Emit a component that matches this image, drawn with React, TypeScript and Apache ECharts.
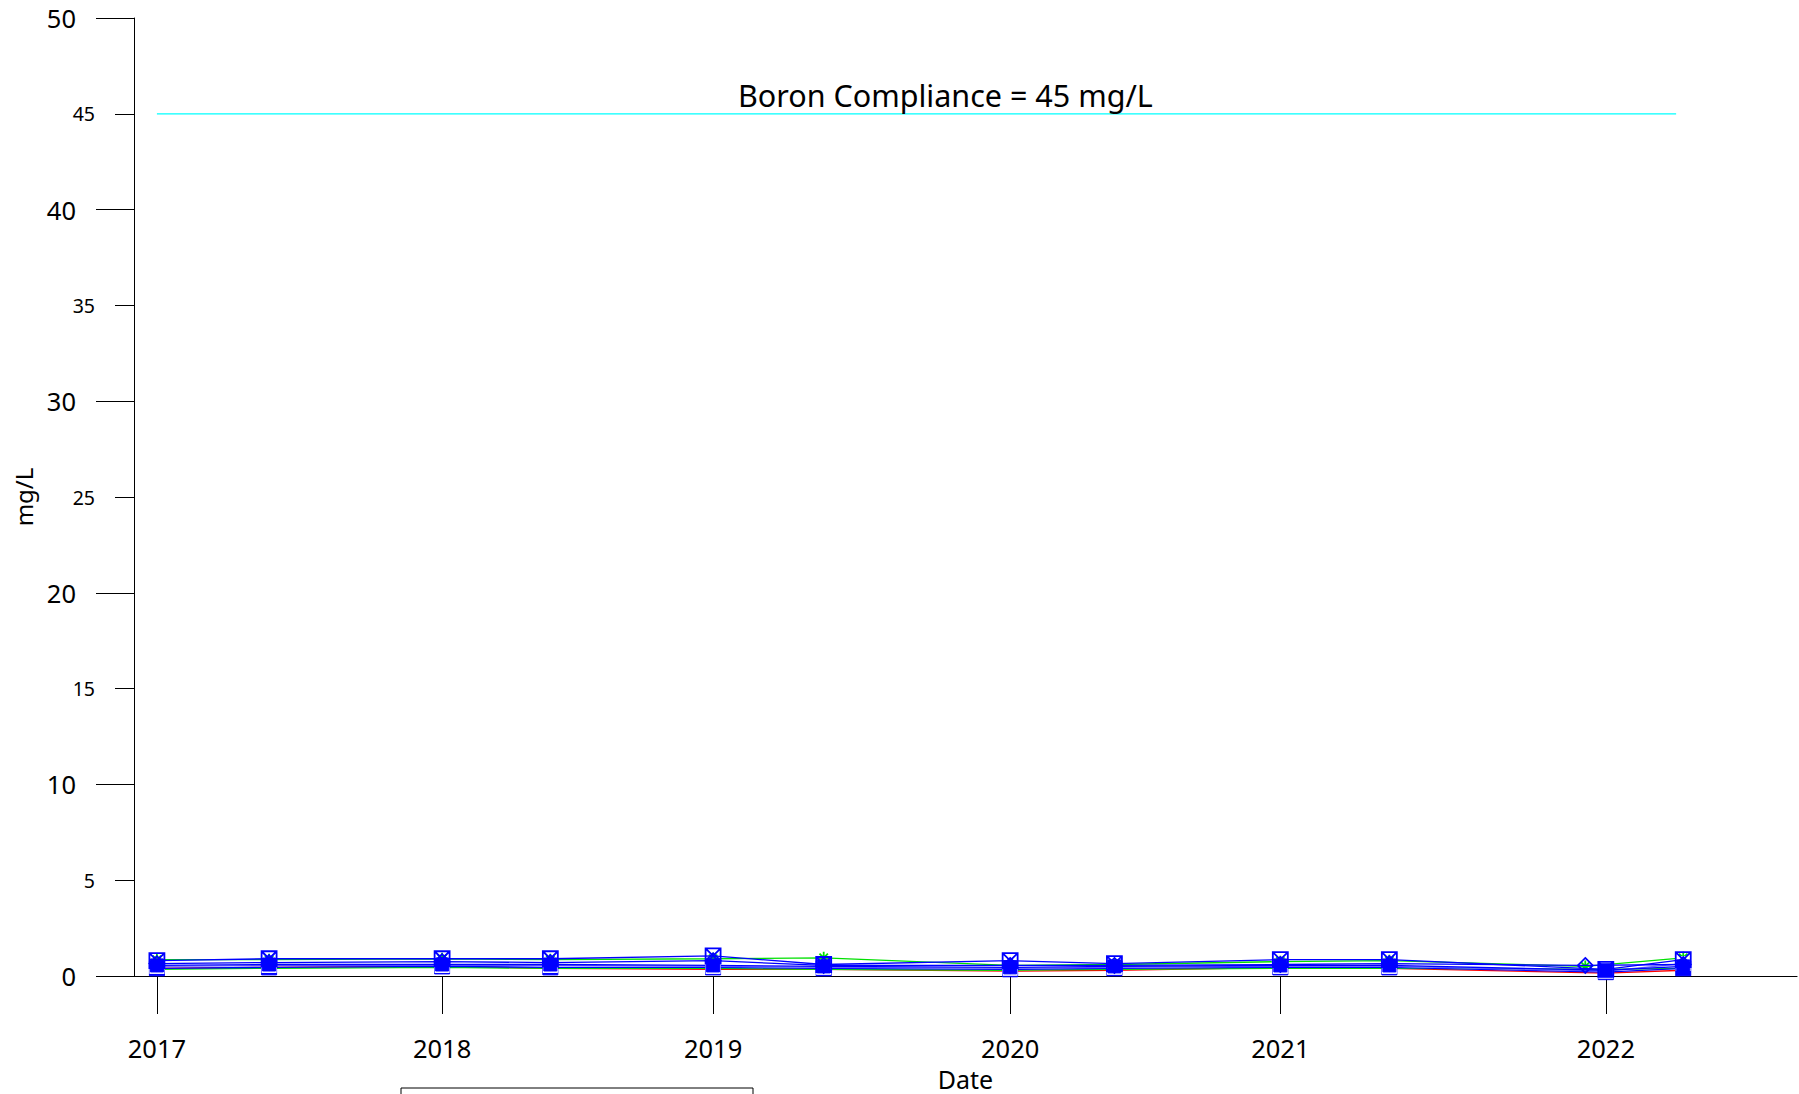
import React, { useEffect, useRef } from 'react';
import * as echarts from 'echarts';

// Sample dates (semi-annual monitoring)
const DATES = [
  '2017-03-15', '2017-08-04', '2018-03-11', '2018-07-26', '2019-02-17', '2019-07-07',
  '2020-02-28', '2020-07-09', '2021-02-04', '2021-06-22', '2022-02-25', '2022-03-23', '2022-06-29',
];
const TICK_DATES = ['2017-03-15', '2018-03-11', '2019-02-17', '2020-02-28', '2021-02-04', '2022-03-23'];
const X_MIN = '2017-02-14';
const X_MAX = '2022-11-20';

const Y_MAJOR_TICKS = [0, 10, 20, 30, 40, 50];
const Y_MINOR_TICKS = [5, 15, 25, 35, 45];

const LIMIT_VALUE = 45;
const LIMIT_LABEL = 'Boron Compliance = 45 mg/L';
const LIMIT_START = '2017-03-15';
const LIMIT_END = '2022-06-20';

// Boron concentrations (mg/L) per well
const W1 = [0.80, 0.90, 0.90, 0.90, 1.05, 0.60, 0.80, 0.65, 0.85, 0.85, null, 0.35, 0.85];
const W2 = [0.85, 0.85, 0.90, 0.85, 0.90, 0.95, 0.55, 0.60, 0.75, 0.80, 0.50, null, 0.95];
const W3 = [0.65, 0.70, 0.75, 0.70, 0.80, 0.55, 0.55, 0.55, 0.60, 0.65, 0.55, null, 0.60];
const W4 = [0.55, 0.60, 0.60, 0.60, 0.55, 0.50, 0.45, 0.50, 0.55, 0.55, null, 0.30, 0.50];
const W5 = [0.50, 0.55, 0.55, 0.55, 0.50, 0.45, 0.40, 0.45, 0.50, 0.50, null, 0.25, 0.65];
const W6 = [0.40, 0.45, 0.50, 0.45, 0.45, 0.40, 0.35, 0.40, 0.45, 0.45, null, 0.20, 0.40];
const W7 = [0.40, 0.45, 0.50, 0.40, 0.35, 0.35, 0.25, 0.30, 0.45, 0.40, null, 0.15, 0.30];
const W8 = [0.35, 0.40, 0.45, 0.40, 0.40, 0.35, 0.30, 0.35, 0.40, 0.40, null, 0.35, 0.40];

const ts = (d: string) => {
  const [y, m, dd] = d.split('-').map(Number);
  return Date.UTC(y, m - 1, dd);
};

const FONT = '"Noto Sans", "Open Sans", sans-serif';
const BLUE = '#0000ff';
const GREEN = '#00e000';
const RED = '#ff0000';
const LIGHTBLUE = '#6a6aff';

const XBOX = 'path://M0 0H10V10H0Z M0 0L10 10 M10 0L0 10';
const STAR = 'path://M5 0V10 M0 5H10 M1.5 1.5L8.5 8.5 M8.5 1.5L1.5 8.5';

function mk(name: string, vals: (number | null)[], color: string, symbol: string, size: number, filled: boolean, z: number) {
  return {
    name,
    type: 'line',
    z,
    data: DATES.map((d, i) => [ts(d), vals[i]]),
    connectNulls: true,
    symbol,
    symbolSize: size,
    showSymbol: true,
    color,
    lineStyle: { color, width: 1.3 },
    itemStyle: filled
      ? { color, borderColor: color, borderWidth: 1 }
      : { color: 'rgba(0,0,0,0)', borderColor: color, borderWidth: 1.8 },
    emphasis: { disabled: true },
  };
}

export default function App() {
  const ref = useRef<HTMLDivElement>(null);
  useEffect(() => {
    document.body.style.margin = '0';
    const chart = echarts.init(ref.current!, null, { renderer: 'svg' });
    const option: any = {
      animation: false,
      backgroundColor: '#ffffff',
      title: {
        text: LIMIT_LABEL,
        left: 733,
        top: 74,
        textStyle: { fontFamily: FONT, fontSize: 30.5, fontWeight: 'normal', color: '#000' },
      },
      grid: { left: 134, right: 2, top: 18, bottom: 118, containLabel: false, outerBoundsMode: 'none' },
      xAxis: {
        type: 'value',
        min: ts(X_MIN),
        max: ts(X_MAX),
        name: 'Date',
        nameLocation: 'middle',
        nameGap: 90,
        nameTextStyle: { fontFamily: FONT, fontSize: 25, color: '#000' },
        axisLine: { show: true, lineStyle: { color: '#000', width: 1.2 } },
        axisTick: { show: true, length: 38, customValues: TICK_DATES.map(ts), lineStyle: { color: '#000', width: 1 } },
        axisLabel: {
          customValues: TICK_DATES.map(ts),
          formatter: (v: number) => String(new Date(v).getUTCFullYear()),
          fontFamily: FONT,
          fontSize: 25.5,
          color: '#000',
          margin: 59,
        },
        splitLine: { show: false },
      },
      yAxis: [
        {
          type: 'value',
          position: 'left',
          min: 0,
          max: 50,
          interval: 10,
          name: 'mg/L',
          nameLocation: 'middle',
          nameGap: 98,
          nameTextStyle: { fontFamily: FONT, fontSize: 24, color: '#000' },
          axisLine: { show: true, lineStyle: { color: '#000', width: 1 } },
          axisTick: { show: true, length: 38, lineStyle: { color: '#000', width: 1 } },
          axisLabel: {
            customValues: Y_MAJOR_TICKS,
            fontFamily: FONT,
            fontSize: 25.5,
            color: '#000',
            margin: 58,
          },
          splitLine: { show: false },
        },
        {
          type: 'value',
          position: 'left',
          offset: 0,
          min: 0,
          max: 50,
          interval: 5,
          axisLine: { show: false },
          axisTick: { show: true, length: 19, customValues: Y_MINOR_TICKS, lineStyle: { color: '#000', width: 1 } },
          axisLabel: {
            customValues: Y_MINOR_TICKS,
            fontFamily: FONT,
            fontSize: 19.5,
            color: '#000',
            margin: 39,
          },
          splitLine: { show: false },
        },
      ],
      series: [
        {
          name: 'limit',
          type: 'line',
          data: [[ts(LIMIT_START), LIMIT_VALUE], [ts(LIMIT_END), LIMIT_VALUE]],
          symbol: 'none',
          lineStyle: { color: '#00ffff', width: 1.2 },
          emphasis: { disabled: true },
          z: 1,
        },
        mk('W7', W7, RED, 'circle', 5, true, 2),
        mk('W8', W8, GREEN, 'triangle', 8, true, 2),
        mk('W2', W2, GREEN, STAR, 12, false, 3),
        mk('W6', W6, BLUE, 'rect', 15, true, 4),
        mk('W5', W5, LIGHTBLUE, 'emptyRect', 15, false, 4),
        mk('W4', W4, BLUE, 'rect', 13, true, 4),
        mk('W3', W3, BLUE, 'diamond', 15, false, 5),
        mk('W1', W1, BLUE, XBOX, 15, false, 6),
      ],
      graphic: [
        {
          type: 'rect',
          shape: { x: 401, y: 1088, width: 352, height: 40 },
          style: { fill: 'none', stroke: '#000', lineWidth: 1 },
        },
      ],
    };
    chart.setOption(option);
    return () => chart.dispose();
  }, []);
  return <div ref={ref} style={{ width: 1799, height: 1094 }} />;
}
